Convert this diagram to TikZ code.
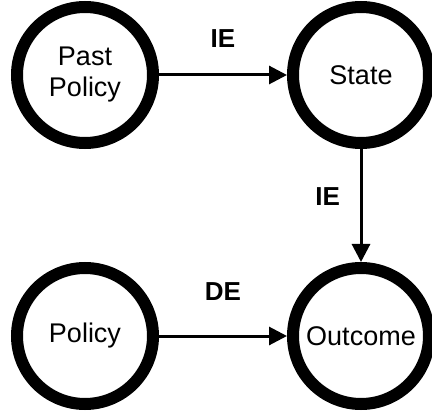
\documentclass[tikz,border=0pt]{standalone}
\usepackage{fontspec}
\setmainfont{Liberation Sans}
\usetikzlibrary{arrows.meta, positioning}

\begin{document}
\begin{tikzpicture}[x=1pt, y=1pt]
    % Node styles
    \tikzstyle{var} = [circle, draw, line width=12pt, minimum size=136pt, inner sep=0pt, align=center, font=\fontsize{27}{31}\selectfont]
    \tikzstyle{effect} = [-{Triangle[length=18pt, width=18pt]}, line width=3pt]
    \tikzstyle{elabel} = [font=\fontsize{26}{31}\selectfont\bfseries, inner sep=0pt]
    \useasboundingbox (0,0) rectangle (432,416);
    % Variables
    \node[var] (pastpolicy) at (85,341) {Past\\Policy};
    \node[var, right=128pt of pastpolicy] (state) {State};
    \node[var, below=113pt of state] (outcome) {Outcome};
    \node[var, left=128pt of outcome] (policy) {Policy};
    % Effects
    \draw[effect] (pastpolicy) -- node[elabel, above=26pt] {IE} (state);
    \draw[effect] (state) -- node[elabel, left=19.5pt, pos=0.42] {IE} (outcome);
    \draw[effect] (policy) -- node[elabel, above=34pt] {DE} (outcome);
\end{tikzpicture}
\end{document}
